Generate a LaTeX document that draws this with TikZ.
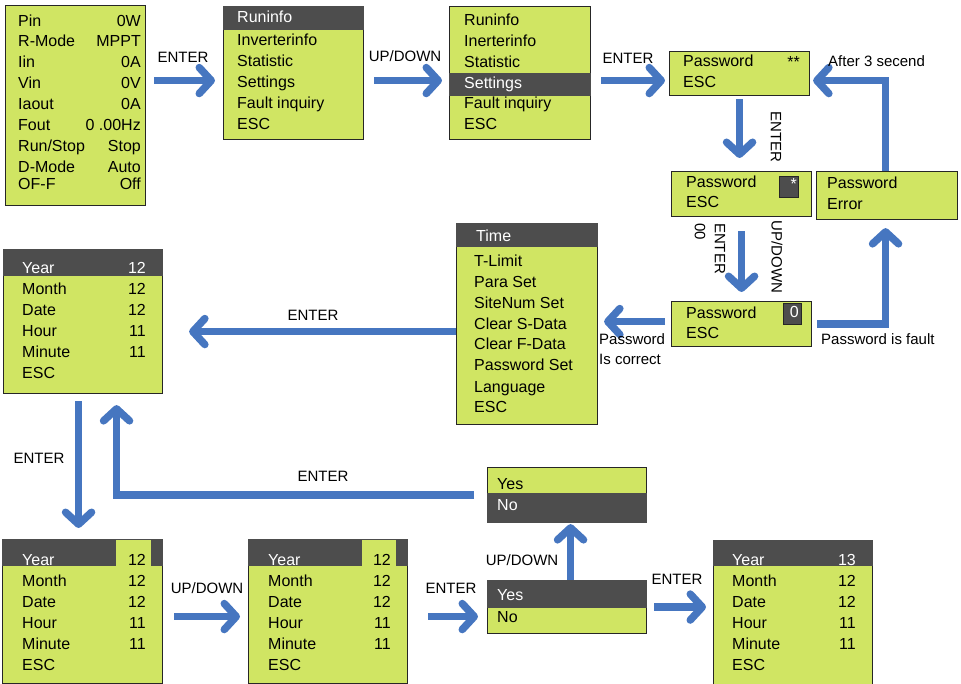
\documentclass[tikz,border=0pt]{standalone}
\usepackage{fontspec}
\setmainfont{Liberation Sans}
\usetikzlibrary{arrows.meta}
\definecolor{lcd}{RGB}{208,229,99}
\definecolor{band}{RGB}{77,77,77}
\definecolor{keyblue}{RGB}{70,118,192}
\tikzset{
  screen/.style={draw=black!85,line width=1.1pt,fill=lcd,inner sep=0pt,anchor=north west},
  item/.style={anchor=base west,inner sep=0pt,font=\fontsize{16}{19}\selectfont},
  val/.style={anchor=base east,inner sep=0pt,font=\fontsize{16}{19}\selectfont},
  key/.style={anchor=base,inner sep=0pt,font=\fontsize{15}{20}\selectfont},
  flow/.style={draw=keyblue,line width=7.5pt,-{Straight Barb[length=12pt,width=26pt,round]}},
}
\begin{document}
\begin{tikzpicture}[x=1pt,y=-1pt]
\useasboundingbox (0,0) rectangle (961,684);
% screens
\node[screen,minimum width=140pt,minimum height=200pt] (status) at (5,5) {};
\node[screen,minimum width=140pt,minimum height=133pt] (runinfo) at (223,6) {};
\node[screen,minimum width=141pt,minimum height=133pt] (settings) at (449,6) {};
\node[screen,minimum width=140pt,minimum height=44pt] (pwA) at (669,51) {};
\node[screen,minimum width=140pt,minimum height=45pt] (pwB) at (671,171) {};
\node[screen,minimum width=141pt,minimum height=48pt] (pwErr) at (816,171) {};
\node[screen,minimum width=140pt,minimum height=45pt] (pwC) at (671,301) {};
\node[screen,minimum width=141pt,minimum height=201pt] (timeMenu) at (456,223) {};
\node[screen,minimum width=159pt,minimum height=144pt] (date1) at (3,249) {};
\node[screen,minimum width=160pt,minimum height=144pt] (date2) at (2,539) {};
\node[screen,minimum width=159pt,minimum height=144pt] (date3) at (248,539) {};
\node[screen,minimum width=159pt,minimum height=55pt] (yesNo) at (487,467) {};
\node[screen,minimum width=159pt,minimum height=53pt] (yesNoB) at (487,580) {};
\node[screen,minimum width=159pt,minimum height=144pt] (date4) at (713,540) {};
% dark bars
\fill[band] (runinfo.north west) rectangle ([yshift=-24pt]runinfo.north east);
\fill[band] ([yshift=-67pt]settings.north west) rectangle ([yshift=-90pt]settings.north east);
\fill[band] (timeMenu.north west) rectangle ([yshift=-24pt]timeMenu.north east);
\fill[band] (date1.north west) rectangle ([yshift=-27pt]date1.north east);
\fill[band] (date2.north west) rectangle ([yshift=-27pt]date2.north east);
\fill[lcd] ([xshift=114pt,yshift=-.6pt]date2.north west) rectangle ([xshift=149pt,yshift=-27pt]date2.north west);
\fill[band] (date3.north west) rectangle ([yshift=-27pt]date3.north east);
\fill[lcd] ([xshift=114pt,yshift=-.6pt]date3.north west) rectangle ([xshift=148pt,yshift=-27pt]date3.north west);
\fill[band] (date4.north west) rectangle ([yshift=-26pt]date4.north east);
\fill[band] ([yshift=-26pt]yesNo.north west) rectangle (yesNo.south east);
\fill[band] (yesNoB.north west) rectangle ([yshift=-28pt]yesNoB.north east);
\filldraw[fill=band,draw=black!85,line width=.8pt] ([xshift=108pt,yshift=-5pt]pwB.north west) rectangle ([xshift=127pt,yshift=-26pt]pwB.north west);
\filldraw[fill=band,draw=black!85,line width=.8pt] ([xshift=112pt,yshift=-2pt]pwC.north west) rectangle ([xshift=130pt,yshift=-23pt]pwC.north west);
% screen texts
\foreach \l/\r/\y [count=\i] in {Pin/0W/27,R-Mode/MPPT/47,Iin/0A/68,Vin/0V/89,Iaout/0A/110,Fout/0 .00Hz/131,{Run/Stop}/Stop/152,D-Mode/Auto/173,OF-F/Off/190}
  {\node[item] (st\i) at (18,\y) {\l}; \node[val] (stv\i) at (141,\y) {\r};}
\node[item,text=white] (ruHead) at (237,23) {Runinfo};
\foreach \t/\y [count=\i] in {Inverterinfo/46,Statistic/67,Settings/88,Fault inquiry/109,ESC/130}
  {\node[item] (ru\i) at (237,\y) {\t};}
\foreach \t/\y [count=\i] in {Runinfo/26,Inerterinfo/47,Statistic/68,Fault inquiry/109,ESC/130}
  {\node[item] (se\i) at (464,\y) {\t};}
\node[item,text=white] (seSel) at (464,89) {Settings};
\node[item] (pwA1) at (683,67) {Password};\node[item] (pwA2) at (683,88) {ESC};
\node[val] (pwAstar) at (800,67.5) {**};
\node[item] (pwB1) at (686,188) {Password};\node[item] (pwB2) at (686,208) {ESC};
\node[val,text=white] (pwBstar) at (797,190) {*};
\node[item] (pwE1) at (827,189) {Password};\node[item] (pwE2) at (827,210) {Error};
\node[item] (pwC1) at (686,319) {Password};\node[item] (pwC2) at (686,339) {ESC};
\node[val,text=white] (pwCdigit) at (799,318) {0};
\node[item,text=white] (tmHead) at (476,242) {Time};
\foreach \t/\y [count=\i] in {T-Limit/267,Para Set/288,SiteNum Set/309,Clear S-Data/330,Clear F-Data/350,Password Set/371,Language/392,ESC/413}
  {\node[item] (tm\i) at (474,\y) {\t};}
\node[item,text=white] (d1Year) at (22,274) {Year};\node[val,text=white] (d1YearV) at (146,274) {12};
\foreach \l/\r/\y [count=\i] in {Month/12/295,Date/12/316,Hour/11/337,Minute/11/358}
  {\node[item] (d1l\i) at (22,\y) {\l}; \node[val] (d1r\i) at (146,\y) {\r};}
\node[item] (d1Esc) at (22,379) {ESC};
\node[item,text=white] (d2Year) at (22,565) {Year};\node[val] (d2YearV) at (146,565) {12};
\foreach \l/\r/\y [count=\i] in {Month/12/586,Date/12/607,Hour/11/628,Minute/11/649}
  {\node[item] (d2l\i) at (22,\y) {\l}; \node[val] (d2r\i) at (146,\y) {\r};}
\node[item] (d2Esc) at (22,670) {ESC};
\node[item,text=white] (d3Year) at (268,565) {Year};\node[val] (d3YearV) at (391,565) {12};
\foreach \l/\r/\y [count=\i] in {Month/12/586,Date/12/607,Hour/11/628,Minute/11/649}
  {\node[item] (d3l\i) at (268,\y) {\l}; \node[val] (d3r\i) at (391,\y) {\r};}
\node[item] (d3Esc) at (268,670) {ESC};
\node[item,text=white] (d4Year) at (732,565) {Year};\node[val,text=white] (d4YearV) at (856,565) {13};
\foreach \l/\r/\y [count=\i] in {Month/12/586,Date/12/607,Hour/11/628,Minute/11/649}
  {\node[item] (d4l\i) at (732,\y) {\l}; \node[val] (d4r\i) at (856,\y) {\r};}
\node[item] (d4Esc) at (732,670) {ESC};
\node[item] (ynYes) at (497,489) {Yes};\node[item,text=white] (ynNo) at (497,510) {No};
\node[item,text=white] (ynBYes) at (497,600) {Yes};\node[item] (ynBNo) at (497,622) {No};
% key arrows
\draw[flow,shorten <=8pt,shorten >=8pt] ([yshift=25pt]status.east) -- ([yshift=-7.5pt]runinfo.west);
\draw[flow,shorten <=10pt,shorten >=7pt] ([yshift=-7.5pt]runinfo.east) -- ([yshift=-7.5pt]settings.west);
\draw[flow,shorten <=10pt,shorten >=4pt] ([yshift=-7.5pt]settings.east) -- ([yshift=-7pt]pwA.west);
\draw[flow,shorten <=3pt,shorten >=13pt] (pwA.south) -- (pwA.south |- pwB.north);
\draw[flow,shorten <=14pt,shorten >=9pt] (pwB.south) -- (pwC.north);
\draw[flow,shorten <=5pt,shorten >=8pt] (pwC.east) -| ([xshift=-1.5pt]pwErr.south);
\draw[flow,shorten >=3pt] ([xshift=-1.5pt]pwErr.north) |- ([yshift=-7pt]pwA.east);
\draw[flow,shorten <=6pt,shorten >=6pt] ([yshift=2.5pt]pwC.west) -- ([yshift=2.5pt]timeMenu.east);
\draw[flow,shorten >=26pt] ([yshift=-7.5pt]timeMenu.west) -- ([yshift=-10pt]date1.east);
\draw[flow,shorten <=7pt,shorten >=11pt] ([xshift=-4.5pt]date1.south) -- ([xshift=-4pt]date2.north);
\draw[flow,shorten <=13pt,shorten >=11pt] (yesNo.west) -| ([xshift=33.5pt]date1.south);
\draw[flow,shorten <=11pt,shorten >=8pt] ([yshift=-5pt]date2.east) -- ([yshift=-5pt]date3.west);
\draw[flow,shorten <=20pt,shorten >=9pt] ([yshift=-5pt]date3.east) -- ([yshift=-9.5pt]yesNoB.west);
\draw[flow,shorten >=1pt] ([xshift=3.5pt]yesNoB.north) -- ([xshift=3.5pt]yesNo.south);
\draw[flow,shorten <=7pt,shorten >=7pt] (yesNoB.east) -- (yesNoB.east -| date4.west);
% key labels
\node[key] (kEnter1) at (183,63) {ENTER};
\node[key] (kUpDown1) at (405,62) {UP/DOWN};
\node[key] (kEnter2) at (628,64) {ENTER};
\node[key,anchor=base west] (kAfter) at (828,67) {After 3 secend};
\node[key,anchor=center,rotate=-90] (kEnter3) at (776,137) {ENTER};
\node[key,anchor=center,rotate=-90,align=left] (kEnter4) at (710,248.5) {ENTER\\00};
\node[key,anchor=center,rotate=-90] (kUpDown2) at (777,257) {UP/DOWN};
\node[key,anchor=base west] (kFault) at (821,345) {Password is fault};
\node[key,anchor=base west] (kCorrect1) at (599,345) {Password};
\node[key,anchor=base west] (kCorrect2) at (599,365) {Is correct};
\node[key] (kEnter5) at (313,321) {ENTER};
\node[key] (kEnter6) at (39,463) {ENTER};
\node[key] (kEnter7) at (323,481) {ENTER};
\node[key] (kUpDown3) at (207,593) {UP/DOWN};
\node[key] (kEnter8) at (451,593) {ENTER};
\node[key] (kUpDown4) at (522,565) {UP/DOWN};
\node[key] (kEnter9) at (677,584) {ENTER};
\end{tikzpicture}
\end{document}
